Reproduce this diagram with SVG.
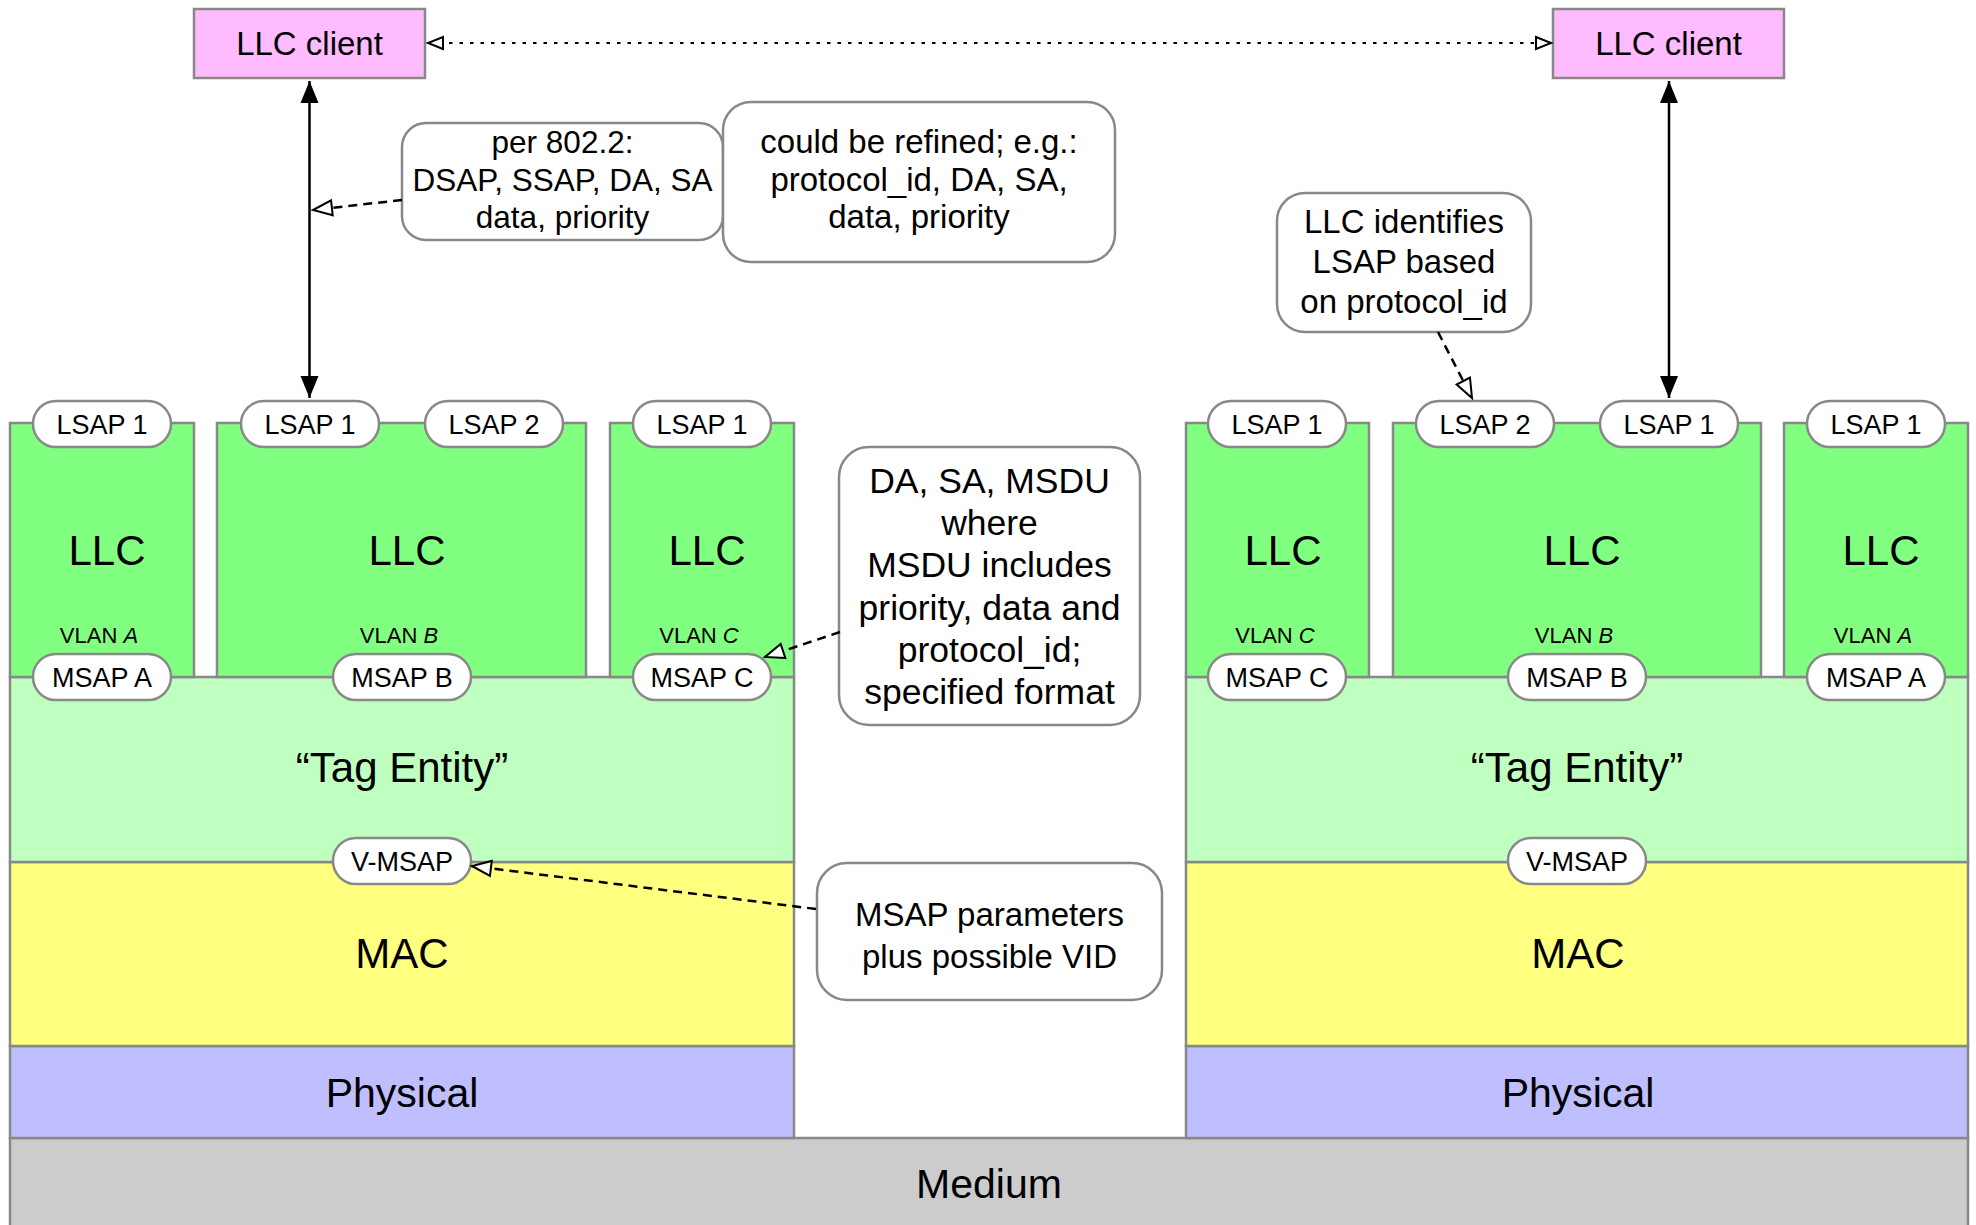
<svg xmlns="http://www.w3.org/2000/svg" width="1976" height="1225" viewBox="0 0 1976 1225">
<style>
text{font-family:"Liberation Sans",Arial,Helvetica,sans-serif;fill:#000;text-anchor:middle}
.edge{stroke:#888;stroke-width:2.5}
.llc{fill:#80FF80}
.tag{fill:#BFFFBF}
.mac{fill:#FFFF80}
.phy{fill:#BFBFFF}
.med{fill:#CCCCCC}
.client{fill:#FFBBFF}
.pill{fill:#fff;stroke:#888;stroke-width:2.5}
.note{fill:#fff;stroke:#888;stroke-width:2.5}
.pt{font-size:27px}
.big{font-size:42px}
.vlan{font-size:22px}
.nt{font-size:33px}
.solid{stroke:#000;stroke-width:2.5;fill:none}
.dash{stroke:#000;stroke-width:2.5;fill:none;stroke-dasharray:9 6}
.dot{stroke:#000;stroke-width:2;fill:none;stroke-dasharray:3.5 7}
</style>
<defs>
<marker id="filled" markerUnits="userSpaceOnUse" markerWidth="24" markerHeight="20" refX="22" refY="9" orient="auto-start-reverse" overflow="visible">
<path d="M0,0 L22,9 L0,18 z" fill="#000"/>
</marker>
<marker id="open" markerUnits="userSpaceOnUse" markerWidth="24" markerHeight="20" refX="20" refY="8.5" orient="auto" overflow="visible">
<path d="M1,1 L20,8.5 L1,16 z" fill="#fff" stroke="#000" stroke-width="2"/>
</marker>
<marker id="opensmall" markerUnits="userSpaceOnUse" markerWidth="18" markerHeight="16" refX="16" refY="7" orient="auto-start-reverse" overflow="visible">
<path d="M1,1 L16,7 L1,13 z" fill="#fff" stroke="#000" stroke-width="2"/>
</marker>
</defs>
<rect width="1976" height="1225" fill="#fff"/>

<g id="medium">
<rect class="med edge" x="10" y="1138" width="1958" height="100"/>
<text style="font-size:41px" x="989" y="1198">Medium</text>
</g>

<g id="left-physical">
<rect class="phy edge" x="10" y="1046" width="784" height="92"/>
<text style="font-size:41px" x="402" y="1107">Physical</text>
</g>
<g id="left-mac">
<rect class="mac edge" x="10" y="862" width="784" height="184"/>
<text class="big" x="402" y="968">MAC</text>
</g>
<g id="left-tag-entity">
<rect class="tag edge" x="10" y="677" width="784" height="185"/>
<text class="big" x="402" y="782">“Tag Entity”</text>
</g>
<g id="left-llc-a">
<rect class="llc edge" x="10" y="423" width="184" height="254"/>
<text class="big" x="107" y="565">LLC</text>
<text class="vlan" x="99" y="643">VLAN <tspan font-style="italic">A</tspan></text>
</g>
<g id="left-llc-b">
<rect class="llc edge" x="217" y="423" width="369" height="254"/>
<text class="big" x="407" y="565">LLC</text>
<text class="vlan" x="399" y="643">VLAN <tspan font-style="italic">B</tspan></text>
</g>
<g id="left-llc-c">
<rect class="llc edge" x="610" y="423" width="184" height="254"/>
<text class="big" x="707" y="565">LLC</text>
<text class="vlan" x="699" y="643">VLAN <tspan font-style="italic">C</tspan></text>
</g>

<g id="right-physical">
<rect class="phy edge" x="1186" y="1046" width="782" height="92"/>
<text style="font-size:41px" x="1578" y="1107">Physical</text>
</g>
<g id="right-mac">
<rect class="mac edge" x="1186" y="862" width="782" height="184"/>
<text class="big" x="1578" y="968">MAC</text>
</g>
<g id="right-tag-entity">
<rect class="tag edge" x="1186" y="677" width="782" height="185"/>
<text class="big" x="1577" y="782">“Tag Entity”</text>
</g>
<g id="right-llc-c">
<rect class="llc edge" x="1186" y="423" width="183" height="254"/>
<text class="big" x="1283" y="565">LLC</text>
<text class="vlan" x="1275" y="643">VLAN <tspan font-style="italic">C</tspan></text>
</g>
<g id="right-llc-b">
<rect class="llc edge" x="1393" y="423" width="368" height="254"/>
<text class="big" x="1582" y="565">LLC</text>
<text class="vlan" x="1574" y="643">VLAN <tspan font-style="italic">B</tspan></text>
</g>
<g id="right-llc-a">
<rect class="llc edge" x="1784" y="423" width="184" height="254"/>
<text class="big" x="1881" y="565">LLC</text>
<text class="vlan" x="1873" y="643">VLAN <tspan font-style="italic">A</tspan></text>
</g>

<g id="left-lsap1-a"><rect class="pill" x="33" y="401" width="138" height="46" rx="23"/><text class="pt" x="102" y="433.5">LSAP 1</text></g>
<g id="left-lsap1-b"><rect class="pill" x="241" y="401" width="138" height="46" rx="23"/><text class="pt" x="310" y="433.5">LSAP 1</text></g>
<g id="left-lsap2-b"><rect class="pill" x="425" y="401" width="138" height="46" rx="23"/><text class="pt" x="494" y="433.5">LSAP 2</text></g>
<g id="left-lsap1-c"><rect class="pill" x="633" y="401" width="138" height="46" rx="23"/><text class="pt" x="702" y="433.5">LSAP 1</text></g>
<g id="right-lsap1-c"><rect class="pill" x="1208" y="401" width="138" height="46" rx="23"/><text class="pt" x="1277" y="433.5">LSAP 1</text></g>
<g id="right-lsap2-b"><rect class="pill" x="1416" y="401" width="138" height="46" rx="23"/><text class="pt" x="1485" y="433.5">LSAP 2</text></g>
<g id="right-lsap1-b"><rect class="pill" x="1600" y="401" width="138" height="46" rx="23"/><text class="pt" x="1669" y="433.5">LSAP 1</text></g>
<g id="right-lsap1-a"><rect class="pill" x="1807" y="401" width="138" height="46" rx="23"/><text class="pt" x="1876" y="433.5">LSAP 1</text></g>

<g id="left-msap-a"><rect class="pill" x="33" y="654" width="138" height="46" rx="23"/><text class="pt" x="102" y="686.5">MSAP A</text></g>
<g id="left-msap-b"><rect class="pill" x="333" y="654" width="138" height="46" rx="23"/><text class="pt" x="402" y="686.5">MSAP B</text></g>
<g id="left-msap-c"><rect class="pill" x="633" y="654" width="138" height="46" rx="23"/><text class="pt" x="702" y="686.5">MSAP C</text></g>
<g id="right-msap-c"><rect class="pill" x="1208" y="654" width="138" height="46" rx="23"/><text class="pt" x="1277" y="686.5">MSAP C</text></g>
<g id="right-msap-b"><rect class="pill" x="1508" y="654" width="138" height="46" rx="23"/><text class="pt" x="1577" y="686.5">MSAP B</text></g>
<g id="right-msap-a"><rect class="pill" x="1807" y="654" width="138" height="46" rx="23"/><text class="pt" x="1876" y="686.5">MSAP A</text></g>

<g id="left-vmsap"><rect class="pill" x="333" y="838" width="138" height="46" rx="23"/><text class="pt" x="402" y="870.5">V-MSAP</text></g>
<g id="right-vmsap"><rect class="pill" x="1508" y="838" width="138" height="46" rx="23"/><text class="pt" x="1577" y="870.5">V-MSAP</text></g>

<g id="left-llc-client">
<rect class="client edge" x="194" y="9" width="231" height="69"/>
<text style="font-size:33px" x="309.5" y="55">LLC client</text>
</g>
<g id="right-llc-client">
<rect class="client edge" x="1553" y="9" width="231" height="69"/>
<text style="font-size:33px" x="1668.5" y="55">LLC client</text>
</g>

<g id="note-per-8022">
<rect class="note" x="402" y="123" width="321" height="117" rx="24"/>
<text style="font-size:31.5px" x="562.5" y="153">per 802.2:</text>
<text style="font-size:31.5px" x="562.5" y="191">DSAP, SSAP, DA, SA</text>
<text style="font-size:31.5px" x="562.5" y="228">data, priority</text>
</g>
<g id="note-refined">
<rect class="note" x="723" y="102" width="392" height="160" rx="28"/>
<text class="nt" x="919" y="153">could be refined; e.g.:</text>
<text class="nt" x="919" y="191">protocol_id, DA, SA,</text>
<text class="nt" x="919" y="228">data, priority</text>
</g>
<g id="note-llc-identifies">
<rect class="note" x="1277" y="193" width="254" height="139" rx="28"/>
<text class="nt" x="1404" y="233">LLC identifies</text>
<text class="nt" x="1404" y="273">LSAP based</text>
<text class="nt" x="1404" y="313">on protocol_id</text>
</g>
<g id="note-msdu">
<rect class="note" x="839" y="447" width="301" height="278" rx="30"/>
<text style="font-size:35.5px" x="989.5" y="493">DA, SA, MSDU</text>
<text style="font-size:35.5px" x="989.5" y="535">where</text>
<text style="font-size:35.5px" x="989.5" y="577">MSDU includes</text>
<text style="font-size:35.5px" x="989.5" y="620">priority, data and</text>
<text style="font-size:35.5px" x="989.5" y="662">protocol_id;</text>
<text style="font-size:35.5px" x="989.5" y="704">specified format</text>
</g>
<g id="note-msap-params">
<rect class="note" x="817" y="863" width="345" height="137" rx="30"/>
<text style="font-size:33px" x="989.5" y="926">MSAP parameters</text>
<text style="font-size:33px" x="989.5" y="968">plus possible VID</text>
</g>

<g id="connectors">
<line class="dot" x1="428" y1="43" x2="1551" y2="43" marker-start="url(#opensmall)" marker-end="url(#opensmall)"/>
<line class="solid" x1="309.5" y1="81" x2="309.5" y2="398" marker-start="url(#filled)" marker-end="url(#filled)"/>
<line class="solid" x1="1669" y1="81" x2="1669" y2="398" marker-start="url(#filled)" marker-end="url(#filled)"/>
<line class="dash" x1="402" y1="200" x2="313" y2="210" marker-end="url(#open)"/>
<line class="dash" x1="1438" y1="332" x2="1472" y2="398" marker-end="url(#open)"/>
<line class="dash" x1="840" y1="632" x2="765" y2="657" marker-end="url(#open)"/>
<line class="dash" x1="816" y1="909" x2="472" y2="866" marker-end="url(#open)"/>
</g>
</svg>
